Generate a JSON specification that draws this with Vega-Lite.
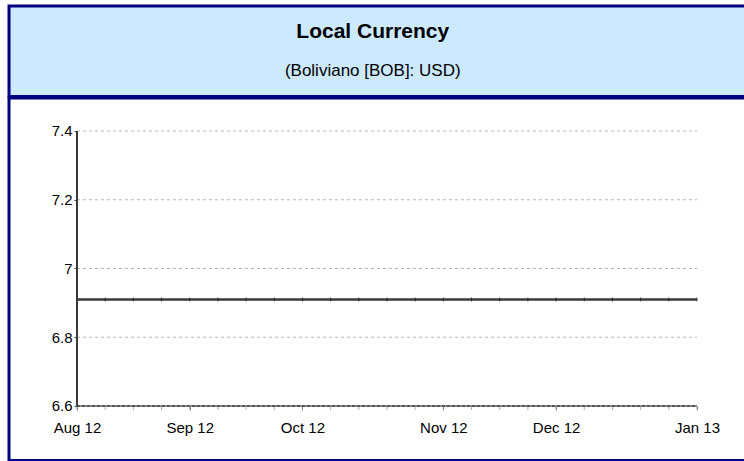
{
  "$schema": "https://vega.github.io/schema/vega-lite/v6.json",
  "background": "white",
  "padding": {"left": 7, "top": 4, "right": 0, "bottom": 0},
  "spacing": 1,
  "bounds": "flush",
  "config": {"font": "Liberation Sans"},
  "datasets": {
    "rates": [
      {"date": "2012-08-06", "rate": 6.91},
      {"date": "2012-08-13", "rate": 6.91},
      {"date": "2012-08-20", "rate": 6.91},
      {"date": "2012-08-27", "rate": 6.91},
      {"date": "2012-09-03", "rate": 6.91},
      {"date": "2012-09-10", "rate": 6.91},
      {"date": "2012-09-17", "rate": 6.91},
      {"date": "2012-09-24", "rate": 6.91},
      {"date": "2012-10-01", "rate": 6.91},
      {"date": "2012-10-08", "rate": 6.91},
      {"date": "2012-10-15", "rate": 6.91},
      {"date": "2012-10-22", "rate": 6.91},
      {"date": "2012-10-29", "rate": 6.91},
      {"date": "2012-11-05", "rate": 6.91},
      {"date": "2012-11-12", "rate": 6.91},
      {"date": "2012-11-19", "rate": 6.91},
      {"date": "2012-11-26", "rate": 6.91},
      {"date": "2012-12-03", "rate": 6.91},
      {"date": "2012-12-10", "rate": 6.91},
      {"date": "2012-12-17", "rate": 6.91},
      {"date": "2012-12-24", "rate": 6.91},
      {"date": "2012-12-31", "rate": 6.91},
      {"date": "2013-01-07", "rate": 6.91}
    ],
    "grid": [{"level": 6.8}, {"level": 7.0}, {"level": 7.2}, {"level": 7.4}],
    "one": [{"dummy": 0}]
  },
  "vconcat": [
    {
      "width": 737.5,
      "height": 90.5,
      "view": {"fill": "#cce9fe", "stroke": "#000080", "strokeWidth": 3},
      "data": {"values": [
        {"line": "title", "text": "Local Currency"},
        {"line": "subtitle", "text": "(Boliviano [BOB]: USD)"}
      ]},
      "encoding": {
        "y": {"field": "line", "type": "nominal", "scale": {"type": "point", "domain": ["title", "subtitle"], "padding": 0.66}, "axis": null},
        "text": {"field": "text"}
      },
      "layer": [
        {
          "transform": [{"filter": "datum.line === 'title'"}],
          "mark": {"type": "text", "font": "Liberation Sans", "fontSize": 21, "fontWeight": "bold", "color": "black", "align": "center", "baseline": "middle", "dx": -5}
        },
        {
          "transform": [{"filter": "datum.line === 'subtitle'"}],
          "mark": {"type": "text", "font": "Liberation Sans", "fontSize": 17, "color": "black", "align": "center", "baseline": "middle", "dx": -5}
        }
      ]
    },
    {
      "width": 737.5,
      "height": 362.5,
      "view": {"fill": "white", "stroke": "#000080", "strokeWidth": 3},
      "layer": [
        {
          "data": {"name": "rates"},
          "mark": {"type": "line", "color": "#3a3a3a", "strokeWidth": 2.5},
          "encoding": {
            "x": {
              "field": "date", "type": "temporal",
              "scale": {"type": "utc", "domain": [1342751878000, 1358579106000], "nice": false},
              "axis": {
                "values": [1344211200000, 1346630400000, 1349049600000, 1352073600000, 1354492800000, 1357516800000],
                "labelExpr": "utcFormat(datum.value, '%b %y')",
                "title": null, "domain": false, "grid": false,
                "ticks": true, "tickSize": 4, "tickColor": "#888888", "tickWidth": 1,
                "labelFont": "Liberation Sans",
                "labelFontSize": 15, "labelColor": "black", "labelPadding": 10, "labelAngle": 0,
                "labelOverlap": false, "labelFlush": false, "offset": -54.5
              }
            },
            "y": {
              "field": "rate", "type": "quantitative",
              "scale": {"domain": [6.44145, 7.496], "nice": false, "zero": false},
              "axis": {
                "values": [6.6, 6.8, 7, 7.2, 7.4], "format": "~g",
                "title": null, "domain": false, "grid": false,
                "ticks": true, "tickSize": 3, "tickColor": "#444444", "tickWidth": 1,
                "labelFont": "Liberation Sans",
                "labelFontSize": 15, "labelColor": "black", "labelPadding": 2,
                "offset": -68
              }
            }
          }
        },
        {
          "data": {"name": "rates"},
          "mark": {"type": "tick", "orient": "vertical", "size": 4, "thickness": 1, "color": "#1a1a1a"},
          "encoding": {
            "x": {"field": "date", "type": "temporal"},
            "y": {"field": "rate", "type": "quantitative"}
          }
        },
        {
          "data": {"name": "rates"},
          "mark": {"type": "tick", "orient": "vertical", "size": 4, "thickness": 1, "color": "#888888", "yOffset": 2},
          "encoding": {
            "x": {"field": "date", "type": "temporal"},
            "y": {"datum": 6.6, "type": "quantitative"}
          }
        },
        {
          "data": {"name": "grid"},
          "mark": {"type": "rule", "color": "#b5b5b5", "strokeWidth": 1, "strokeDash": [3, 3]},
          "encoding": {
            "y": {"field": "level", "type": "quantitative"},
            "x": {"datum": 1344211200000, "type": "temporal"},
            "x2": {"datum": 1357516800000}
          }
        },
        {
          "data": {"name": "one"},
          "mark": {"type": "rule", "color": "#8a8a8a", "strokeWidth": 2},
          "encoding": {
            "y": {"datum": 6.6, "type": "quantitative"},
            "x": {"datum": 1344211200000, "type": "temporal"},
            "x2": {"datum": 1357516800000}
          }
        },
        {
          "data": {"name": "one"},
          "mark": {"type": "rule", "color": "#222222", "strokeWidth": 1.2, "strokeDash": [3, 2]},
          "encoding": {
            "y": {"datum": 6.6, "type": "quantitative"},
            "x": {"datum": 1344211200000, "type": "temporal"},
            "x2": {"datum": 1357516800000}
          }
        },
        {
          "data": {"name": "one"},
          "mark": {"type": "rule", "color": "#3a3a3a", "strokeWidth": 2},
          "encoding": {
            "x": {"datum": 1344211200000, "type": "temporal"},
            "y": {"datum": 6.6, "type": "quantitative"},
            "y2": {"datum": 7.4}
          }
        }
      ]
    }
  ]
}
